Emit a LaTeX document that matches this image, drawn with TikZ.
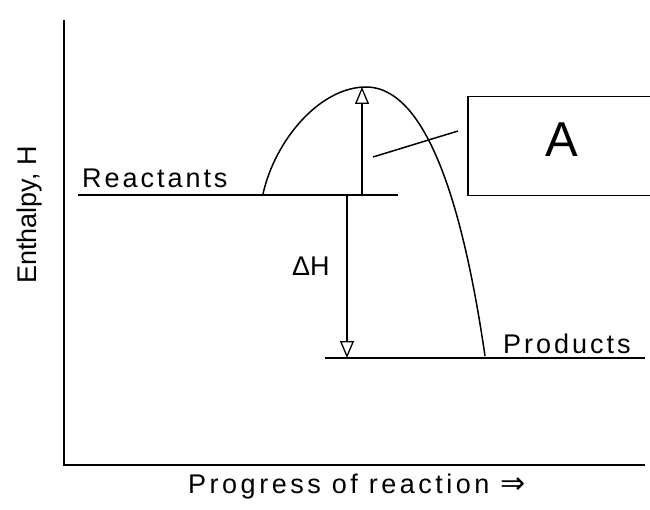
\documentclass[tikz,border=0pt]{standalone}
\usepackage{fontspec}
\setmainfont{Liberation Sans}
\newfontfamily\symfont{DejaVu Sans}
\usetikzlibrary{arrows.meta}
\begin{document}
\begin{tikzpicture}[x=1pt,y=-1pt,
  ln/.style={line width=1.5pt, black},
  lbl/.style={inner sep=0pt, font=\fontsize{27}{31}\selectfont},
  harrow/.style={ln, -{Triangle[open, length=17pt, width=14pt, line width=1.3pt]}}]
\clip (0,0) rectangle (650,510);
% axes
\coordinate (ytop) at (64,20);
\coordinate (orig) at (64,465);
\coordinate (xend) at (645,465);
\draw[ln] (ytop) -- (orig) -- (xend);
% levels
\coordinate (rL) at (78,195);
\coordinate (rR) at (398,195);
\coordinate (pL) at (325,358);
\coordinate (pR) at (645,358);
\draw[ln] (rL) -- (rR);
\draw[ln] (pL) -- (pR);
% energy curve
\coordinate (cs) at (263,194);
\coordinate (peak) at (366,87);
\coordinate (ce) at (485,356);
\draw[ln] (cs) .. controls (275,140) and (320,87) .. (peak)
  .. controls (410,87) and (455,150) .. (ce);
% arrows
\coordinate (ua0) at (362,195);
\coordinate (ua1) at (362,87);
\coordinate (da0) at (347,195);
\coordinate (da1) at (347,358);
\draw[harrow] (ua0) -- (ua1);
\draw[harrow] (da0) -- (da1);
% box A
\node[draw, ln, minimum width=200pt, minimum height=99pt, anchor=north west, inner sep=0pt] (boxA) at (467,96) {};
\node[inner sep=0pt, font=\fontsize{49}{55}\selectfont] (lblA) at (562,140) {A};
\coordinate (ptr0) at (373,157);
\coordinate (ptr1) at (458,131);
\draw[ln] (ptr0) -- (ptr1);
% labels
\node[lbl, anchor=base west] (react) at (82,188) {\addfontfeature{LetterSpace=11}Reactants};
\node[lbl, anchor=base west] (prod) at (503,353) {\addfontfeature{LetterSpace=11}Products};
\node[lbl, anchor=base west] (dH) at (292,276) {ΔH};
\node[lbl, anchor=base, rotate=90] (ylab) at (36,215) {Enthalpy, H};
\node[lbl, anchor=base west] (xlab) at (188,493) {\addfontfeature{LetterSpace=13}Progress of reaction {\symfont\fontsize{30}{31}\selectfont ⇒}};
\end{tikzpicture}
\end{document}
